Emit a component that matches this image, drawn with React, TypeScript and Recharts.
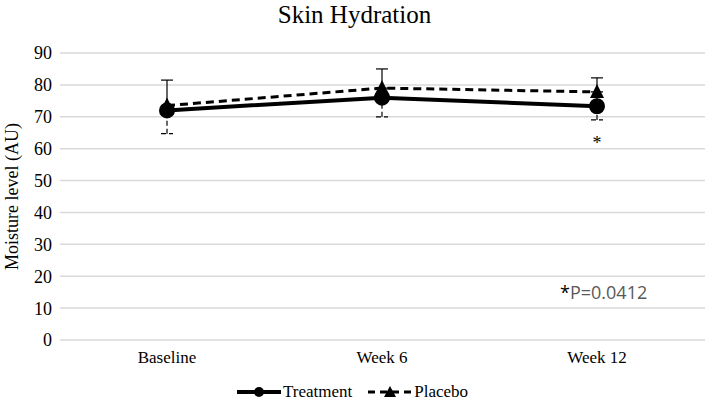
import {
  LineChart,
  Line,
  XAxis,
  YAxis,
  CartesianGrid,
  ErrorBar,
  Legend,
  ReferenceDot,
} from "recharts";

const categories = ["Baseline", "Week 6", "Week 12"];
const treatment = [72, 76, 73.3];
const placebo = [73.5, 79, 77.8];
// upper error (treatment) and lower error (placebo)
const treatmentErrUp = [9.5, 9, 8.9];
const placeboErrDown = [8.8, 9, 8.8];
const yTicks = [0, 10, 20, 30, 40, 50, 60, 70, 80, 90];

const data = categories.map((c, i) => ({
  name: c,
  treatment: treatment[i],
  placebo: placebo[i],
  tErr: [0, treatmentErrUp[i]],
  pErr: [placeboErrDown[i], 0],
}));

const SERIF = "'Liberation Serif', 'Times New Roman', serif";

const Triangle = (props: any) => {
  const { cx, cy } = props;
  if (cx == null || cy == null) return null;
  return (
    <polygon
      key={`tri-${cx}`}
      points={`${cx},${cy - 8} ${cx - 7},${cy + 6} ${cx + 7},${cy + 6}`}
      fill="#000"
    />
  );
};

const LegendContent = () => (
  <div
    style={{
      position: "relative",
      top: 12,
      display: "flex",
      justifyContent: "center",
      gap: 16,
      fontFamily: SERIF,
      fontSize: 17,
      color: "#000",
    }}
  >
    <span style={{ display: "flex", alignItems: "center", gap: 2 }}>
      <svg width={44} height={14}>
        <line x1={0} y1={7} x2={44} y2={7} stroke="#000" strokeWidth={4} />
        <circle cx={22} cy={7} r={5} fill="#000" />
      </svg>
      Treatment
    </span>
    <span style={{ display: "flex", alignItems: "center", gap: 2 }}>
      <svg width={44} height={14}>
        <line
          x1={0}
          y1={7}
          x2={44}
          y2={7}
          stroke="#000"
          strokeWidth={3}
          strokeDasharray="7 5"
        />
        <polygon points="22,1 16,12 28,12" fill="#000" />
      </svg>
      Placebo
    </span>
  </div>
);

export default function App() {
  return (
    <div style={{ position: "absolute", left: 0, top: 0, width: 709, height: 408, background: "#fff" }}>
      <div
        style={{
          position: "absolute",
          top: 0,
          width: 709,
          textAlign: "center",
          fontFamily: SERIF,
          fontSize: 25,
          lineHeight: "30px",
          color: "#000",
        }}
      >
        Skin Hydration
      </div>
      <LineChart
        width={709}
        height={408}
        data={data}
        margin={{ top: 53, right: 4, left: 0, bottom: 4 }}
      >
        <CartesianGrid vertical={false} stroke="#d9d9d9" strokeWidth={1.5} />
        <XAxis
          dataKey="name"
          axisLine={false}
          tickLine={false}
          padding={{ left: 107, right: 108 }}
          tick={{ fontFamily: SERIF, fontSize: 17, fill: "#000" }}
          tickMargin={5}
        />
        <YAxis
          width={60}
          domain={[0, 90]}
          ticks={yTicks}
          axisLine={false}
          tickLine={false}
          tick={{ fontFamily: SERIF, fontSize: 18, fill: "#000" }}
          label={{
            value: "Moisture level (AU)",
            angle: -90,
            position: "insideLeft",
            offset: 12,
            style: { textAnchor: "middle", fontFamily: SERIF, fontSize: 18, fill: "#000" },
          }}
        />
        <Legend verticalAlign="bottom" height={34} content={<LegendContent />} />
        <Line
          dataKey="placebo"
          stroke="#000"
          strokeWidth={3}
          strokeDasharray="8 5"
          dot={<Triangle />}
          activeDot={false}
          isAnimationActive={false}
        >
          <ErrorBar dataKey="pErr" width={6} stroke="#000" strokeWidth={1.2} strokeDasharray="5 3" />
        </Line>
        <Line
          dataKey="treatment"
          stroke="#000"
          strokeWidth={4}
          dot={{ r: 6, fill: "#000", stroke: "#000" }}
          activeDot={false}
          isAnimationActive={false}
        >
          <ErrorBar dataKey="tErr" width={6} stroke="#000" strokeWidth={1.2} />
        </Line>
        <ReferenceDot
          x="Week 12"
          y={62}
          r={0}
          label={{ value: "*", fontFamily: SERIF, fontSize: 18, fill: "#000" }}
        />
        <ReferenceDot
          x="Week 12"
          y={15}
          r={0}
          label={(p: any) => (
            <text
              x={p.viewBox.x - 37}
              y={p.viewBox.y + 7}
              fontFamily="'Open Sans', 'Noto Sans', sans-serif"
              fontSize={18}
            >
              <tspan fill="#000">*</tspan>
              <tspan fill="#595959">P=0.0412</tspan>
            </text>
          )}
        />
      </LineChart>
    </div>
  );
}
